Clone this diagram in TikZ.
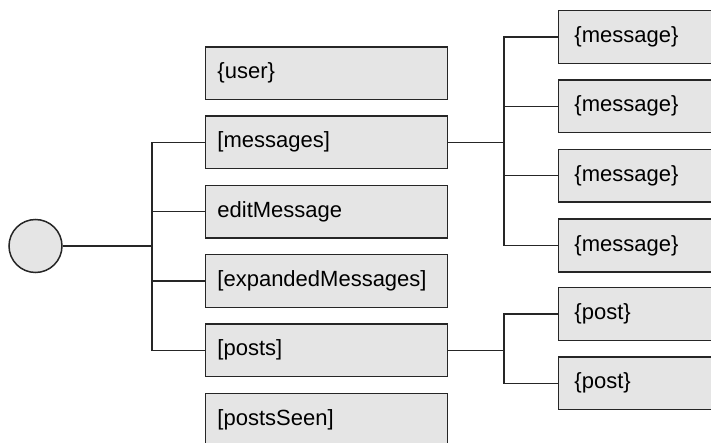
\documentclass[tikz,border=0pt]{standalone}
\usepackage{fontspec}
\setmainfont{Liberation Sans}
\begin{document}
\begin{tikzpicture}[x=1pt,y=-1pt,
  box/.style={draw=black!85, line width=1.5pt, fill=gray!20, minimum height=52.7pt,
    inner xsep=12pt, inner ysep=0pt, text width=218pt, align=left, anchor=west,
    font=\fontsize{22}{26}\selectfont, text=black},
  rbox/.style={box, inner xsep=16pt, text width=200pt},
  conn/.style={line width=1.5pt, draw=black!85}]
\useasboundingbox (0,0) rectangle (711,443);
\clip (0,0) rectangle (711,443);
% root
\node[circle, draw=black!85, line width=1.5pt, fill=gray!20, minimum size=53pt, inner sep=0pt] (root) at (35.5,246) {};
% first column
\node[box] (user) at (204.7,73.3) {\{user\}};
\node[box] (messages) at (204.7,142.3) {[messages]};
\node[box] (edit) at (204.7,211.7) {editMessage};
\node[box] (expanded) at (204.7,281) {[expandedMessages]};
\node[box] (posts) at (204.7,350.3) {[posts]};
\node[box] (seen) at (204.7,419.7) {[postsSeen]};
% second column
\node[rbox] (m1) at (557.7,37) {\{message\}};
\node[rbox] (m2) at (557.7,106.3) {\{message\}};
\node[rbox] (m3) at (557.7,175.7) {\{message\}};
\node[rbox] (m4) at (557.7,245.5) {\{message\}};
\node[rbox] (p1) at (557.7,314) {\{post\}};
\node[rbox] (p2) at (557.7,383.3) {\{post\}};
% trunks
\coordinate (trunk) at (152,0);
\coordinate (mtrunk) at (504,0);
\draw[conn] (root.east) -- (root.east -| trunk);
\draw[conn] (messages.west) -- (messages.west -| trunk) -- (posts.west -| trunk) -- (posts.west);
\draw[conn] (edit.west) -- (edit.west -| trunk);
\draw[conn] (expanded.west) -- (expanded.west -| trunk);
\draw[conn] (messages.east) -- (messages.east -| mtrunk);
\draw[conn] (m1.west) -- (m1.west -| mtrunk) -- (m4.west -| mtrunk) -- (m4.west);
\draw[conn] (m2.west) -- (m2.west -| mtrunk);
\draw[conn] (m3.west) -- (m3.west -| mtrunk);
\draw[conn] (posts.east) -- (posts.east -| mtrunk);
\draw[conn] (p1.west) -- (p1.west -| mtrunk) -- (p2.west -| mtrunk) -- (p2.west);
\end{tikzpicture}
\end{document}
